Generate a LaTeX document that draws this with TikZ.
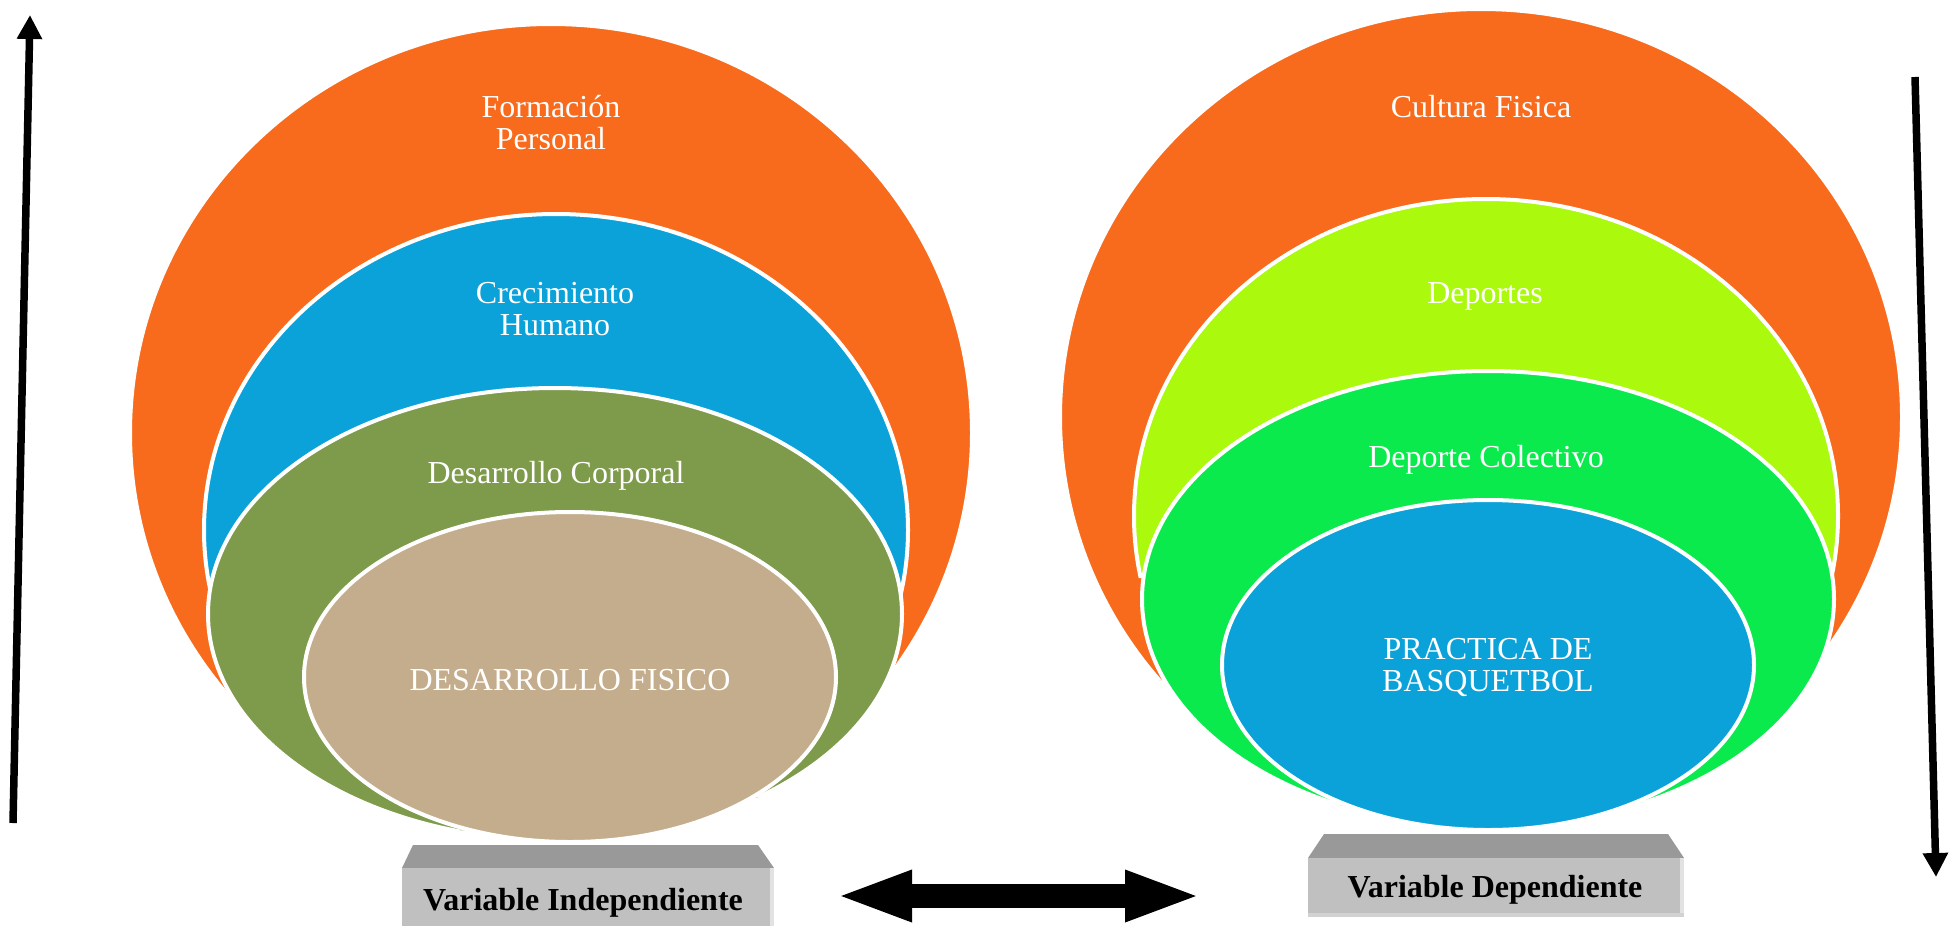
\documentclass[tikz,border=0pt]{standalone}
\usepackage{fontspec}
\setmainfont{Liberation Serif}
\usetikzlibrary{calc,arrows.meta}
\definecolor{cOrange}{HTML}{F86B1D}
\definecolor{cBlue}{HTML}{0AA2D9}
\definecolor{cOlive}{HTML}{7E9A4B}
\definecolor{cTan}{HTML}{C4AD8C}
\definecolor{cLime}{HTML}{ABF90D}
\definecolor{cGreen}{HTML}{0AEA4C}
\definecolor{cTop}{HTML}{999999}
\definecolor{cFront}{HTML}{C0C0C0}
\definecolor{cEdgeR}{HTML}{E2E2E2}
\definecolor{cEdgeB}{HTML}{D2D2D2}
\newcommand\nestlayer[7]{%
  \coordinate (#7a) at ($(#5)!-1!(#6)$);
  \coordinate (#7b) at ($(#5)!2!(#6)$);
  \begin{scope}
    \clip (#7a) -- (#7b) -- ([yshift=1500pt]#7b) -- ([yshift=1500pt]#7a) -- cycle;
    \fill[#4] (#1) ellipse [x radius=#2pt, y radius=#3pt];
    \draw[rim] (#1) ellipse [x radius=#2pt, y radius=#3pt];
  \end{scope}}
\begin{document}
\begin{tikzpicture}[x=1pt,y=-1pt,
  rim/.style={white, line width=4pt},
  lbl/.style={text=white, font=\fontsize{32}{32.5}\selectfont, inner sep=0pt, anchor=base},
  vlbl/.style={text=black, font=\bfseries\fontsize{32}{32.5}\selectfont, inner sep=0pt, anchor=base},
  thinarrow/.style={line width=7.5pt, -{Triangle[length=24pt,width=24pt]}},
  blockarrow/.style={line width=24pt, {Triangle[length=77pt,width=46pt]}-{Triangle[length=77pt,width=46pt]}}]
\useasboundingbox (0,0) rectangle (1954,926);
\fill[white] (0,0) rectangle (1954,926);

% ---------- left nest ----------
\nestlayer{551,433}{421}{409}{cOrange}{227,697}{894,668}{oL}
\nestlayer{556,530}{352}{316}{cBlue}{211,593}{903,597}{bL}
\nestlayer{555,614}{347}{226}{cOlive}{440,833}{760,797}{gL}
\fill[cTan] (570,677) ellipse [x radius=266pt, y radius=165pt];
\draw[rim] (570,677) ellipse [x radius=266pt, y radius=165pt];

\node[lbl] (fp) at (551,117) {\begin{tabular}[t]{@{}c@{}}Formación\\Personal\end{tabular}};
\node[lbl] (ch) at (555,303) {\begin{tabular}[t]{@{}c@{}}Crecimiento\\Humano\end{tabular}};
\node[lbl] (dc) at (556,483) {Desarrollo Corporal};
\node[lbl] (df) at (570,690) {DESARROLLO FISICO};

% ---------- right nest ----------
\nestlayer{1481,417}{421}{408}{cOrange}{1162,680}{1825,654}{oR}
\nestlayer{1486,516}{352}{317}{cLime}{1141,578}{1833,579}{lR}
\nestlayer{1488,599}{346}{228}{cGreen}{1343,805}{1642,802}{gR}
\fill[cBlue] (1488,665) ellipse [x radius=266pt, y radius=165pt];
\draw[rim] (1488,665) ellipse [x radius=266pt, y radius=165pt];

\node[lbl] (cf) at (1481,117) {Cultura Fisica};
\node[lbl] (dp) at (1485,303) {Deportes};
\node[lbl] (dco) at (1486,467) {Deporte Colectivo};
\node[lbl] (pb) at (1488,659) {\begin{tabular}[t]{@{}c@{}}PRACTICA DE\\BASQUETBOL\end{tabular}};

% ---------- bases ----------
\fill[cTop] (413,845) -- (758,845) -- (774,868) -- (402,868) -- cycle;
\fill[cFront] (402,868) rectangle (774,926);
\fill[cEdgeR] (770,868) rectangle (774,926);
\node[vlbl] (vi) at (583,910) {Variable Independiente};

\fill[cTop] (1324,834) -- (1668,834) -- (1684,858) -- (1308,858) -- cycle;
\fill[cFront] (1308,858) rectangle (1684,917);
\fill[cEdgeR] (1680,858) rectangle (1684,917);
\fill[cEdgeB] (1308,913) rectangle (1684,917);
\node[vlbl] (vd) at (1495,897) {Variable Dependiente};

% ---------- arrows ----------
\coordinate (upS) at (13,823);
\coordinate (upE) at (30,15);
\draw[thinarrow] (upS) -- (upE);
\coordinate (dnS) at (1915,77);
\coordinate (dnE) at (1936,877);
\draw[thinarrow] (dnS) -- (dnE);
\coordinate (dbL) at (835,896);
\coordinate (dbR) at (1202,896);
\draw[blockarrow] (dbL) -- (dbR);
\end{tikzpicture}
\end{document}
